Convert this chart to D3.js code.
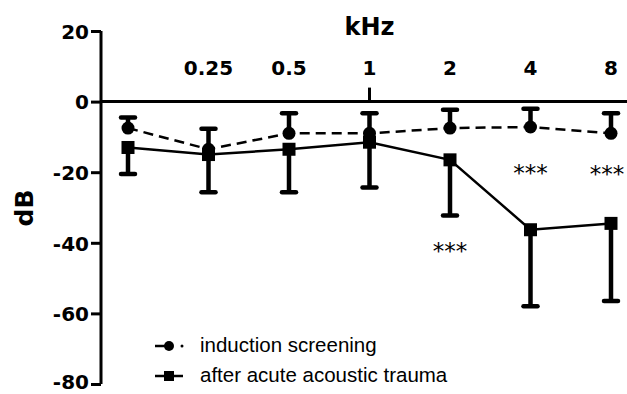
<!DOCTYPE html>
<html>
<head>
<meta charset="utf-8">
<script src="https://cdn.jsdelivr.net/npm/d3@7"></script>
<style>
  body { margin: 0; background: #fff; }
  svg { display: block; font-family: "Liberation Sans", Arial, sans-serif; }
  .bold-label { font-family: "DejaVu Sans", sans-serif; font-weight: bold; }
</style>
</head>
<body>
<svg id="chart" width="627" height="394"></svg>
<script>
var freqs = [ "0.125", "0.25", "0.5", "1", "2", "4", "8" ];
var freqLabels = [ "", "0.25", "0.5", "1", "2", "4", "8" ];
var screeningMean = [ -7.5, -13.5, -9, -9, -7.5, -7.2, -9 ];
var screeningErrTop = [ -4.5, -7.7, -3.3, -3.3, -2.3, -2, -3.3 ];
var traumaMean = [ -13, -15, -13.5, -11.5, -16.5, -36.3, -34.5 ];
var traumaErrBottom = [ -20.5, -25.7, -25.7, -24.3, -32.3, -58, -56.5 ];
var yTicks = [ 20, 0, -20, -40, -60, -80 ];
var stars = [ { freq: "2", y: -44.7 }, { freq: "4", y: -22.4 }, { freq: "8", y: -22.9 } ];
var legendItems = [ "induction screening", "after acute acoustic trauma" ];

var svg = d3.select( "#chart" );

var x = d3.scalePoint().domain( freqs ).range( [ 128, 611 ] );
var y = d3.scaleLinear().domain( [ -80, 20 ] ).range( [ 384, 31 ] );

// y axis
var yAxis = svg.append( "g" )
  .attr( "transform", "translate(101,0)" )
  .call( d3.axisLeft( y ).tickValues( yTicks ).tickSize( 10 ).tickPadding( 2 )
    .tickFormat( function( d ){ return d < 0 ? "-" + Math.abs( d ) : "" + d; } ) );
yAxis.select( ".domain" ).attr( "stroke-width", 3 ).attr( "d", "M0," + y( 20 ) + "V" + y( -80 ) );
yAxis.selectAll( ".tick line" ).attr( "stroke-width", 3 );
yAxis.selectAll( ".tick text" )
  .attr( "class", "bold-label" )
  .style( "font-size", "20px" )
  .attr( "fill", "#000" )
  .attr( "dy", function( d ){ return d == -80 ? "0.2em" : "0.36em"; } );

// zero line
svg.append( "line" )
  .attr( "x1", 101 ).attr( "x2", 627 )
  .attr( "y1", y( 0 ) ).attr( "y2", y( 0 ) )
  .attr( "stroke", "#000" ).attr( "stroke-width", 3 );

// tick at 1 kHz
svg.append( "line" )
  .attr( "x1", x( "1" ) ).attr( "x2", x( "1" ) )
  .attr( "y1", y( 0 ) ).attr( "y2", y( 0 ) - 14 )
  .attr( "stroke", "#000" ).attr( "stroke-width", 3 );

// frequency labels
svg.selectAll( ".freq-label" )
  .data( freqs )
  .enter()
  .append( "text" )
  .attr( "class", "freq-label bold-label" )
  .attr( "x", function( d ){ return x( d ); } )
  .attr( "y", 75 )
  .attr( "text-anchor", "middle" )
  .style( "font-size", "20px" )
  .text( function( d, i ){ return freqLabels[ i ]; } );

svg.append( "text" )
  .attr( "class", "bold-label" )
  .attr( "x", x( "1" ) ).attr( "y", 35 )
  .attr( "text-anchor", "middle" )
  .style( "font-size", "24px" )
  .text( "kHz" );

svg.append( "text" )
  .attr( "class", "bold-label" )
  .attr( "transform", "translate(33,208) rotate(-90)" )
  .attr( "text-anchor", "middle" )
  .style( "font-size", "25px" )
  .text( "dB" );

// error bars
function errorBars( means, ends ){
  var g = svg.append( "g" );
  freqs.forEach( function( f, i ){
    g.append( "line" )
      .attr( "x1", x( f ) ).attr( "x2", x( f ) )
      .attr( "y1", y( means[ i ] ) ).attr( "y2", y( ends[ i ] ) )
      .attr( "stroke", "#000" ).attr( "stroke-width", 4.5 );
    g.append( "line" )
      .attr( "x1", x( f ) - 7 ).attr( "x2", x( f ) + 7 )
      .attr( "y1", y( ends[ i ] ) ).attr( "y2", y( ends[ i ] ) )
      .attr( "stroke", "#000" ).attr( "stroke-width", 4.5 ).attr( "stroke-linecap", "round" );
  } );
}
errorBars( screeningMean, screeningErrTop );
errorBars( traumaMean, traumaErrBottom );

// lines
var line = d3.line()
  .x( function( d, i ){ return x( freqs[ i ] ); } )
  .y( function( d ){ return y( d ); } );

svg.append( "path" )
  .datum( screeningMean )
  .attr( "d", line )
  .attr( "fill", "none" ).attr( "stroke", "#000" )
  .attr( "stroke-width", 2.5 ).attr( "stroke-dasharray", "10,6" );

svg.append( "path" )
  .datum( traumaMean )
  .attr( "d", line )
  .attr( "fill", "none" ).attr( "stroke", "#000" ).attr( "stroke-width", 2.5 );

// markers
svg.selectAll( ".dot" )
  .data( screeningMean )
  .enter()
  .append( "circle" )
  .attr( "class", "dot" )
  .attr( "cx", function( d, i ){ return x( freqs[ i ] ); } )
  .attr( "cy", function( d ){ return y( d ); } )
  .attr( "r", 6.5 );

svg.selectAll( ".sq" )
  .data( traumaMean )
  .enter()
  .append( "rect" )
  .attr( "class", "sq" )
  .attr( "x", function( d, i ){ return x( freqs[ i ] ) - 6.5; } )
  .attr( "y", function( d ){ return y( d ) - 6.5; } )
  .attr( "width", 13 ).attr( "height", 13 );

// significance stars (last one pulled in so it stays inside the frame)
svg.selectAll( ".star" )
  .data( stars )
  .enter()
  .append( "text" )
  .attr( "class", "star" )
  .attr( "x", function( d ){ return Math.min( x( d.freq ), 607 ); } )
  .attr( "y", function( d ){ return y( d.y ); } )
  .attr( "text-anchor", "middle" )
  .style( "font-family", "'DejaVu Sans', sans-serif" )
  .style( "font-size", "23px" )
  .text( "***" );

// legend
var legend = svg.append( "g" ).attr( "transform", "translate(155,0)" );
legendItems.forEach( function( label, i ){
  var ly = 346 + i * 30;
  var row = legend.append( "g" );
  if( i == 0 ){
    row.append( "line" )
      .attr( "x1", 0 ).attr( "x2", 18 ).attr( "y1", ly ).attr( "y2", ly )
      .attr( "stroke", "#000" ).attr( "stroke-width", 2.5 );
    row.append( "circle" ).attr( "cx", 14 ).attr( "cy", ly ).attr( "r", 5 );
    row.append( "circle" ).attr( "cx", 27 ).attr( "cy", ly ).attr( "r", 1.5 );
  } else {
    row.append( "line" )
      .attr( "x1", 0 ).attr( "x2", 28 ).attr( "y1", ly ).attr( "y2", ly )
      .attr( "stroke", "#000" ).attr( "stroke-width", 2.5 );
    row.append( "rect" ).attr( "x", 9 ).attr( "y", ly - 5 ).attr( "width", 10 ).attr( "height", 10 );
  }
  row.append( "text" )
    .attr( "x", 45 ).attr( "y", ly + 6 )
    .style( "font-size", "20.5px" )
    .text( label );
} );
</script>
</body>
</html>
